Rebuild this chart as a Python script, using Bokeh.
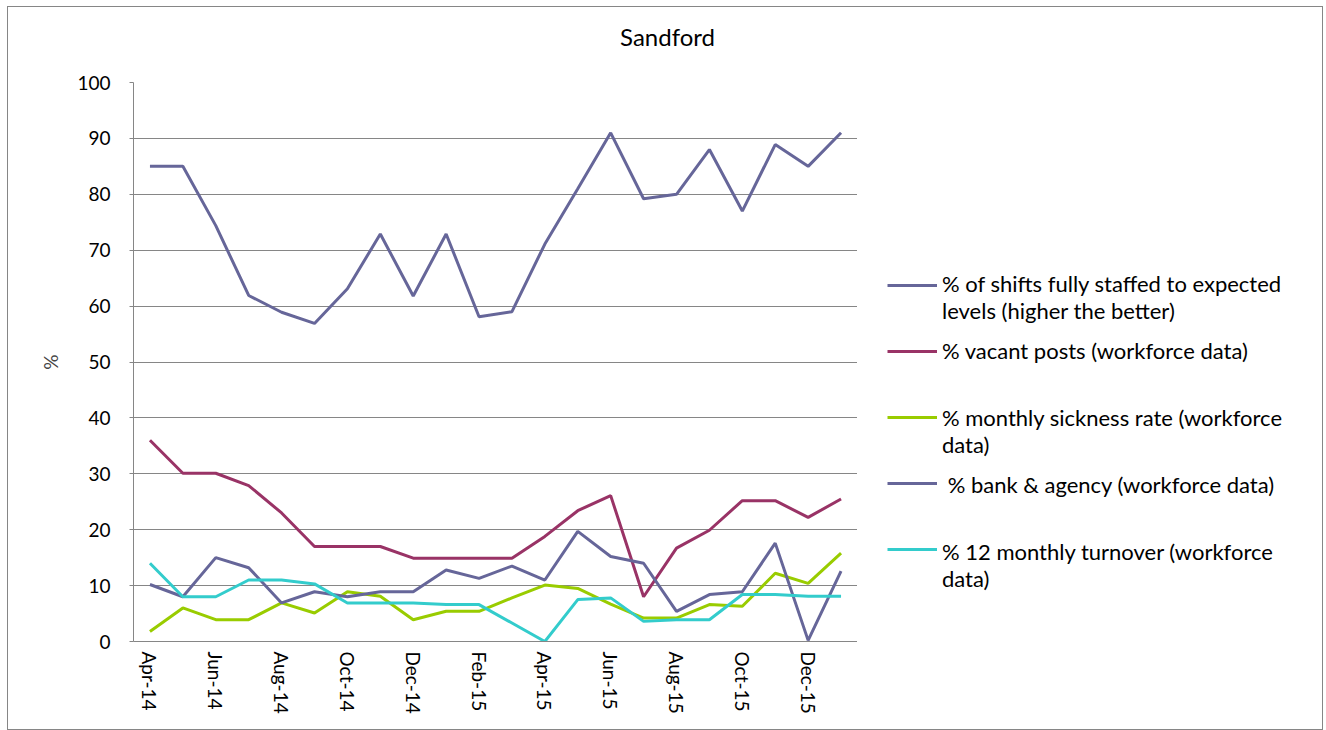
import numpy as np
from bokeh.plotting import figure
from bokeh.layouts import column, row
from bokeh.models import (Range1d, FactorRange, SingleIntervalTicker, Legend, LegendItem,
                          CustomJSTickFormatter, Label)
from bokeh.embed import file_html
from bokeh.resources import INLINE

months = ["Apr-14", "May-14", "Jun-14", "Jul-14", "Aug-14", "Sep-14", "Oct-14", "Nov-14",
          "Dec-14", "Jan-15", "Feb-15", "Mar-15", "Apr-15", "May-15", "Jun-15", "Jul-15",
          "Aug-15", "Sep-15", "Oct-15", "Nov-15", "Dec-15", "Jan-16"]
shifts = [85.0, 85.0, 74.4, 61.9, 58.9, 56.9, 63.1, 72.9, 61.8, 72.9, 58.1, 59.0,
          71.1, 81.0, 91.0, 79.2, 80.0, 88.0, 77.0, 88.9, 85.0, 91.0]
vacant = [36.0, 30.1, 30.1, 27.9, 23.0, 17.0, 17.0, 17.0, 14.9, 14.9, 14.9, 14.9,
          18.8, 23.4, 26.1, 8.0, 16.7, 19.9, 25.2, 25.2, 22.2, 25.5]
sickness = [1.8, 6.0, 3.9, 3.9, 6.9, 5.1, 8.9, 8.1, 3.9, 5.4, 5.4, 7.8,
            10.1, 9.5, 6.7, 4.2, 4.2, 6.6, 6.3, 12.2, 10.4, 15.8]
bank = [10.2, 8.0, 15.0, 13.2, 6.9, 8.9, 8.0, 8.9, 8.9, 12.8, 11.3, 13.5,
        11.0, 19.7, 15.2, 14.0, 5.4, 8.4, 8.9, 17.6, 0.2, 12.6]
turnover = [14.0, 8.0, 8.0, 11.0, 11.0, 10.3, 6.9, 6.9, 6.9, 6.6, 6.6, 3.3,
            0.0, 7.5, 7.8, 3.6, 3.9, 3.9, 8.4, 8.4, 8.1, 8.1]

chart_title = "Sandford"
series_names = [
    "% of shifts fully staffed to expected\nlevels (higher the better)",
    "% vacant posts (workforce data)\n ",
    "% monthly sickness rate (workforce\ndata)",
    " % bank & agency (workforce data)\n ",
    "% 12 monthly turnover (workforce\ndata)",
]
series_values = [shifts, vacant, sickness, bank, turnover]
series_colors = ["#666699", "#993366", "#99CC00", "#666699", "#33CCCC"]

FONT = "Lato"
GRAY = "#868686"
LW = 3

# ---- title strip ----
tf = figure(width=1314, height=63, x_range=Range1d(0, 1), y_range=Range1d(0, 1),
            output_backend="svg", toolbar_location=None, min_border=0,
            x_axis_location=None, y_axis_location=None, title=None)
tf.outline_line_color = None
tf.grid.visible = False
tf.add_layout(Label(x=659, y=34, x_units="screen", y_units="screen", text=chart_title,
                    text_align="center", text_baseline="middle", text_font=FONT,
                    text_font_size="24px", text_color="black"))

# ---- main chart ----
p = figure(width=849, height=659, x_range=FactorRange(*months, range_padding=0),
           y_range=Range1d(0, 100), output_backend="svg", toolbar_location=None, title=None,
           min_border_left=125, min_border_top=12, min_border_bottom=88, min_border_right=0)
p.outline_line_color = None

for vals, col in zip(series_values, series_colors):
    p.line(months, vals, line_color=col, line_width=LW)

p.yaxis.ticker = SingleIntervalTicker(interval=10)
p.ygrid.ticker = SingleIntervalTicker(interval=10)
p.ygrid.grid_line_color = GRAY
p.ygrid.grid_line_width = 1
p.xgrid.grid_line_color = None

for ax in (p.xaxis, p.yaxis):
    ax.axis_line_color = GRAY
    ax.major_tick_line_color = GRAY
    ax.minor_tick_line_color = None
    ax.major_label_text_font = FONT
    ax.major_label_text_font_size = "19px"
    ax.major_label_text_color = "black"

p.yaxis.major_tick_out = 4
p.yaxis.major_tick_in = 0
p.yaxis.major_label_standoff = 19
p.yaxis.axis_label = "%"
p.yaxis.axis_label_text_font = FONT
p.yaxis.axis_label_text_font_size = "19px"
p.yaxis.axis_label_text_font_style = "normal"
p.yaxis.axis_label_standoff = 12

p.xaxis.major_tick_line_color = None
p.xaxis.major_tick_out = 0
p.xaxis.major_label_orientation = "vertical"
p.xaxis.major_label_standoff = 10
p.xaxis.formatter = CustomJSTickFormatter(code="return (index % 2 == 0) ? tick : '';")

# ---- legend panel (its frame is aligned with the chart's frame) ----
lg = figure(width=465, height=659, x_range=Range1d(0, 1), y_range=Range1d(0, 1),
            output_backend="svg", toolbar_location=None, min_border=0, title=None,
            x_axis_location=None, y_axis_location=None)
lg.outline_line_color = None
lg.grid.visible = False

swatch_items = []
text_items = []
for name, col in zip(series_names, series_colors):
    # legend proxy: a single NaN point draws nothing, but lets the legend draw its swatch
    r = lg.line(x=np.array([np.nan]), y=np.array([np.nan]), line_color=col, line_width=LW)
    swatch_items.append(LegendItem(label=" ", renderers=[r]))
    text_items.append(LegendItem(label=name, renderers=[r]))

swatches = Legend(items=swatch_items, location=(30, 79), padding=0, margin=0,
                  border_line_color=None, background_fill_alpha=0,
                  glyph_width=50, glyph_height=26, label_height=26, label_standoff=0,
                  spacing=40, label_text_font_size="6px")
texts = Legend(items=text_items, location=(85, 49), padding=0, margin=0,
               border_line_color=None, background_fill_alpha=0,
               glyph_width=0, glyph_height=1, label_height=26, label_standoff=0,
               spacing=13, label_text_font=FONT, label_text_font_size="22px",
               label_text_line_height=1.36, label_text_color="black")
lg.add_layout(swatches, "center")
lg.add_layout(texts, "center")

layout = column(tf, row(p, lg))
layout.styles = {"border": "1px solid " + GRAY, "margin-left": "7px", "margin-top": "6px"}

open("out.html", "w").write(file_html(layout, INLINE))
